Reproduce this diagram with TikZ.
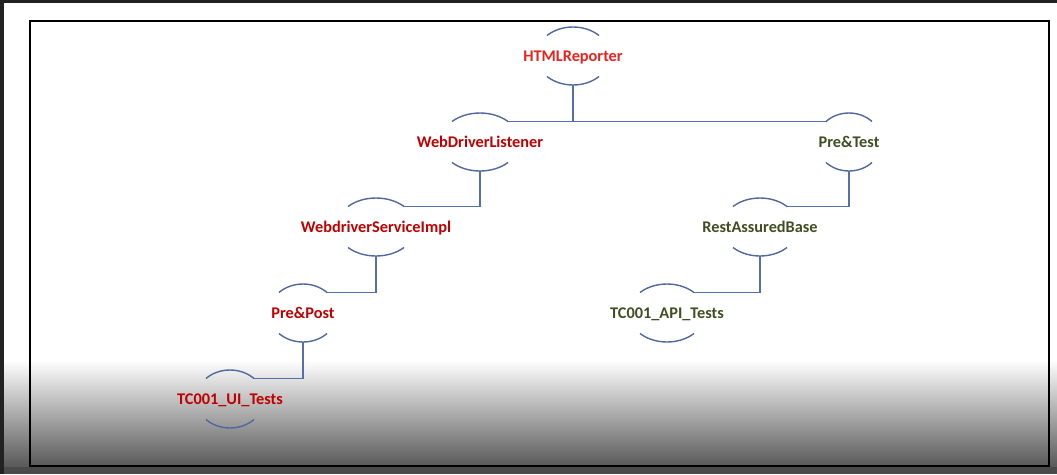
\documentclass[tikz,border=0pt]{standalone}
\usepackage{fontspec}
\setmainfont{Carlito}
\usetikzlibrary{calc}
\definecolor{brightred}{HTML}{E8231E}
\definecolor{darkred}{HTML}{C00000}
\definecolor{olive}{HTML}{3F4F22}
\definecolor{linec}{HTML}{5470AA}
\definecolor{arcc}{HTML}{52689C}
\definecolor{shadebot}{HTML}{585858}
\definecolor{outbot}{HTML}{4A4A4A}
\definecolor{edge}{HTML}{222222}
\tikzset{
  lbl/.style={font=\bfseries\fontsize{16.3}{18}\selectfont, inner sep=0pt, anchor=base},
  arcst/.style={draw=arcc, line width=1.4pt},
  conn/.style={draw=linec, line width=1.8pt},
}
% name, x, y, half width, colour, text
\newcommand\ovnode[6]{%
  \coordinate (#1-c) at (#2,-#3);
  \node[lbl, text=#5] (#1) at ($(#1-c)+(0,-5.5)$) {#6};
  \pgfmathsetmacro\ovA{#4/0.7071}
  \coordinate (#1-tl) at ($(#1-c)+({-#4},20.5)$);
  \coordinate (#1-tr) at ($(#1-c)+({#4},20.5)$);
  \coordinate (#1-bl) at ($(#1-c)+({-#4},-20.5)$);
  \coordinate (#1-b) at ($(#1-c)+(0,-29)$);
  \draw[arcst] (#1-tl) arc[start angle=135, end angle=45, x radius=\ovA, y radius=29];
  \draw[arcst] (#1-bl) arc[start angle=225, end angle=315, x radius=\ovA, y radius=29];
}
\begin{document}
\begin{tikzpicture}[x=1pt,y=1pt]
\useasboundingbox (0,0) rectangle (1057,-474);
\fill[white] (0,0) rectangle (1057,-474);
\shade[top color=white, bottom color=shadebot] (0,-360) rectangle (1057,-467);
\fill[outbot] (0,-467) rectangle (1057,-474);
\fill[edge] (0,0) rectangle (1057,-3);
\fill[edge] (0,0) rectangle (4,-474);
\draw[black, line width=1.5pt] (30,-21) rectangle (1049,-466);

\ovnode{html}{573}{56}{26}{brightred}{HTMLReporter}
\ovnode{wdl}{480}{142}{28}{darkred}{WebDriverListener}
\ovnode{pt}{849}{142}{23}{olive}{Pre\&Test}
\ovnode{wsi}{376}{227}{28}{darkred}{WebdriverServiceImpl}
\ovnode{rab}{760}{227}{27}{olive}{RestAssuredBase}
\ovnode{pp}{303}{313}{24}{darkred}{Pre\&Post}
\ovnode{api}{667}{313}{27}{olive}{TC001\_API\_Tests}
\ovnode{ui}{230}{399}{24}{darkred}{TC001\_UI\_Tests}

\draw[conn] (wdl-tr) -- (pt-tl);
\draw[conn] (html-b) -- (html-b |- wdl-tr);
\draw[conn] (wdl-b) |- (wsi-tr);
\draw[conn] (wsi-b) |- (pp-tr);
\draw[conn] (pp-b) |- (ui-tr);
\draw[conn] (pt-b) |- (rab-tr);
\draw[conn] (rab-b) |- (api-tr);
\end{tikzpicture}
\end{document}
